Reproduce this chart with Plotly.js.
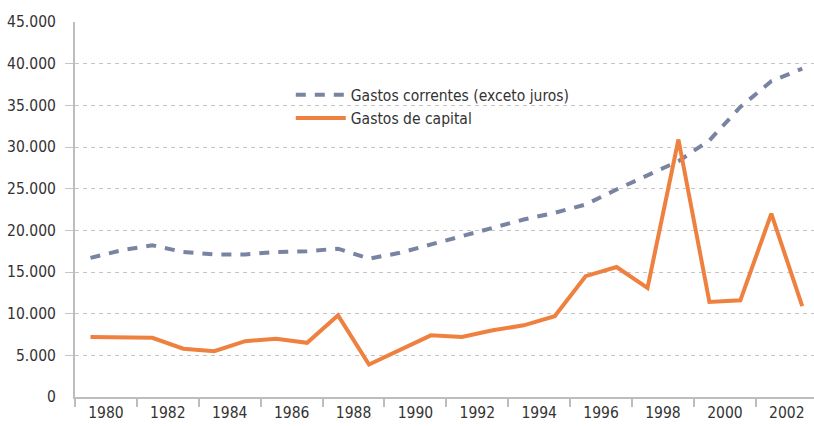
<!DOCTYPE html>
<html>
<head>
<meta charset="utf-8">
<script src="https://cdn.plot.ly/plotly-3.0.1.min.js"></script>
<style>
  html, body { margin: 0; padding: 0; background: #fff; }
  #chart { width: 814px; height: 426px; }
</style>
</head>
<body>
<div id="chart"></div>
<script>
// ---- data ----
const years = [1980, 1981, 1982, 1983, 1984, 1985, 1986, 1987, 1988, 1989, 1990, 1991,
               1992, 1993, 1994, 1995, 1996, 1997, 1998, 1999, 2000, 2001, 2002, 2003];
const gastosCorrentes = [16700, 17600, 18200, 17400, 17100, 17100, 17400, 17500, 17800, 16600, 17300, 18300,
                         19300, 20400, 21300, 22100, 23100, 24900, 26600, 28300, 30800, 34800, 37900, 39400];
const gastosCapital = [7200, 7100, 7100, 5800, 5500, 6700, 7000, 6500, 9800, 3900, 5600, 7400,
                       7200, 8000, 8600, 9700, 14500, 15600, 13100, 30900, 11400, 11600, 22000, 10900];
const xTickLabels = ['1980', '1982', '1984', '1986', '1988', '1990', '1992', '1994', '1996', '1998', '2000', '2002'];
const yTickValues = [0, 5000, 10000, 15000, 20000, 25000, 30000, 35000, 40000, 45000];
const yGridValues = [5000, 10000, 15000, 20000, 25000, 30000, 35000, 40000];
const seriesNames = ['Gastos correntes (exceto juros)', 'Gastos de capital'];

// ---- chart ----
const FONT = '"DejaVu Sans Condensed", "Liberation Sans Narrow", sans-serif';
const FS = 15.5;
const TEXT = '#333333';
const AXIS = '#bdbdbd';
const GRID = '#c4c4c4';

const traces = [
  {
    x: years, y: gastosCorrentes, name: seriesNames[0], type: 'scatter', mode: 'lines',
    line: { color: '#7884a1', width: 4, dash: '10px,9px' }
  },
  {
    x: years, y: gastosCapital, name: seriesNames[1], type: 'scatter', mode: 'lines',
    line: { color: '#ef8140', width: 4 }
  }
];

const layout = {
  width: 814, height: 426,
  margin: { l: 75, r: 0, t: 22, b: 29, pad: 0 },
  paper_bgcolor: '#ffffff', plot_bgcolor: '#ffffff',
  font: { family: FONT, size: FS, color: TEXT },
  separators: ',.',
  showlegend: true,
  legend: {
    x: 0.292, y: 0.85, xanchor: 'left', yanchor: 'top',
    bgcolor: 'rgba(0,0,0,0)', borderwidth: 0,
    font: { family: FONT, size: FS, color: TEXT },
    itemwidth: 50, tracegroupgap: 0
  },
  xaxis: {
    type: 'linear', range: [1979.5, 2003.38], fixedrange: true,
    tickmode: 'array', tickvals: xTickLabels.map(v => Number(v) + 0.5), ticktext: xTickLabels,
    ticks: '',
    showgrid: false, zeroline: false,
    showline: true, linecolor: AXIS, linewidth: 2,
    minor: { tick0: 1979.5, dtick: 2, ticks: 'outside', ticklen: 8, tickwidth: 2, tickcolor: AXIS, showgrid: false },
    tickfont: { family: FONT, size: FS, color: TEXT }
  },
  yaxis: {
    range: [0, 45000], fixedrange: true,
    tickmode: 'array', tickvals: yTickValues, tickformat: ',d',
    ticks: 'outside', ticklen: 14, tickcolor: 'rgba(0,0,0,0)',
    showgrid: false, zeroline: false,
    showline: true, linecolor: AXIS, linewidth: 2,
    minor: { tickmode: 'array', tickvals: yGridValues, ticks: 'outside', ticklen: 8, tickwidth: 1, tickcolor: GRID,
             showgrid: true, gridcolor: GRID, gridwidth: 1, griddash: '4px,4px' },
    tickfont: { family: FONT, size: FS, color: TEXT }
  }
};

Plotly.newPlot('chart', traces, layout, { staticPlot: true, displayModeBar: false });
</script>
</body>
</html>
